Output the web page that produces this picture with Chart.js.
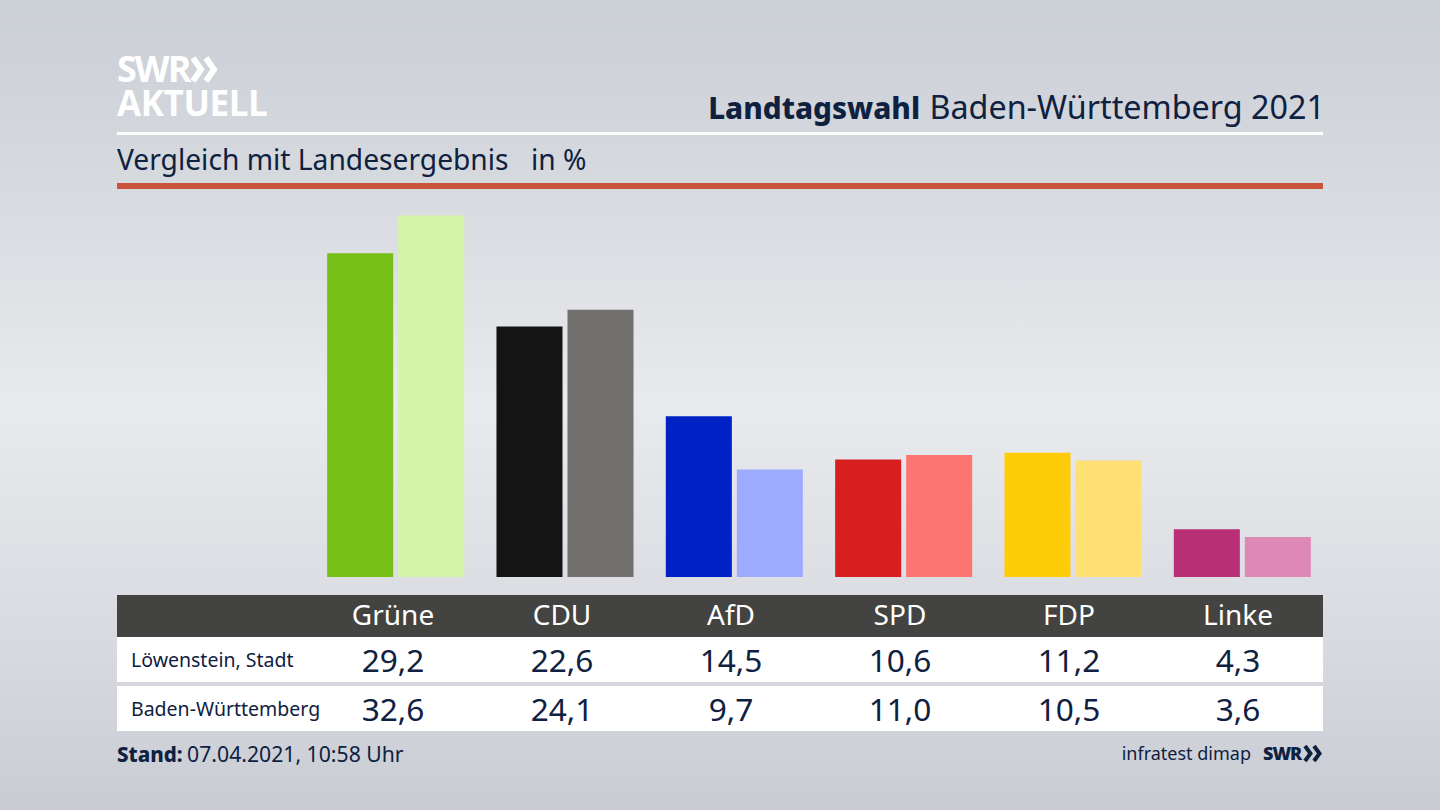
<!DOCTYPE html>
<html lang="de">
<head>
<meta charset="utf-8">
<title>Landtagswahl Baden-Württemberg 2021</title>
<script src="https://cdn.jsdelivr.net/npm/chart.js@4"></script>
<style>
    html, body { margin: 0; padding: 0; }
    body {
        width: 1440px; height: 810px; overflow: hidden; position: relative;
        font-family: "Noto Sans", sans-serif; color: #0f2140;
        background: linear-gradient(180deg, #cbcfd6 0%, #d6d9de 22%, #e9eaee 50%, #d9dbe0 78%, #c9ccd3 100%);
    }
    .abs { position: absolute; white-space: nowrap; }
    #chartBox { position: absolute; left: 311px; top: 189px; width: 1016px; height: 388px; }
    #title { right: 115px; top: 84px; font-size: 32.3px; line-height: 44px; }
    #title b { font-weight: 800; font-size: 29.7px; margin-right: 1px; }
    #subtitle { left: 117px; top: 139px; font-size: 28.2px; line-height: 40px; }
    #unit { left: 531px; top: 139px; font-size: 28.2px; line-height: 40px; }
    #whiteLine { left: 117px; top: 132px; width: 1206px; height: 3px; background: #fff; }
    #redLine { left: 117px; top: 183px; width: 1206px; height: 6px; background: #c9533b; }
    .band { position: absolute; left: 117px; width: 1206px; }
    #headBand { top: 595px; height: 42px; background: #434341; }
    #row1Band { top: 637px; height: 45px; background: #fff; }
    #row2Band { top: 686px; height: 45px; background: #fff; }
    .cell { position: absolute; transform: translateX(-50%); white-space: nowrap; text-align: center; }
    .head { top: 593px; line-height: 42px; font-size: 28px; color: #fff; }
    .val { font-size: 31.6px; line-height: 45px; }
    .rowName { left: 131px; font-size: 19.5px; line-height: 45px; }
    #stand { left: 117px; top: 738px; font-size: 21.2px; line-height: 32px; }
    #stand b { font-weight: 800; font-size: 20.5px; margin-right: -1px; }
    #source { right: 189px; top: 737px; font-size: 18px; line-height: 32px; }
    .logo { font-family: "Open Sans", sans-serif; font-weight: 700; color: #fff; }
    #logoSwr { left: 117px; top: 49px; font-size: 36px; line-height: 40px; letter-spacing: -2px; }
    #logoAkt { left: 117px; top: 83px; font-size: 35px; line-height: 40px; letter-spacing: -0.4px; }
    #footSwr { left: 1263px; top: 737px; font-family: "Open Sans", sans-serif; font-weight: 800; font-size: 18px; line-height: 32px; letter-spacing: -1px; }
    svg.abs { overflow: visible; }
</style>
</head>
<body>
<div class="abs logo" id="logoSwr">SWR</div>
<svg class="abs" style="left:190px;top:57px" width="30" height="25">
    <path d="M3 1 L11 12.5 L3 24 M16 1 L24 12.5 L16 24" fill="none" stroke="#fff" stroke-width="6"/>
</svg>
<div class="abs logo" id="logoAkt">AKTUELL</div>
<div class="abs" id="title"><b>Landtagswahl</b> Baden-Württemberg 2021</div>
<div class="abs" id="whiteLine"></div>
<div class="abs" id="subtitle">Vergleich mit Landesergebnis</div>
<div class="abs" id="unit">in %</div>
<div class="abs" id="redLine"></div>

<div id="chartBox"><canvas id="resultChart" width="1016" height="388"></canvas></div>

<div class="band" id="headBand"></div>
<div class="band" id="row1Band"></div>
<div class="band" id="row2Band"></div>
<div id="tableCells"></div>

<div class="abs" id="stand"><b>Stand:</b> 07.04.2021, 10:58 Uhr</div>
<div class="abs" id="source">infratest dimap</div>
<div class="abs" id="footSwr">SWR</div>
<svg class="abs" style="left:1304px;top:745px" width="20" height="17">
    <path d="M1 1 L6.5 8.5 L1 16 M10 1 L15.5 8.5 L10 16" fill="none" stroke="#0f2140" stroke-width="4"/>
</svg>

<script>
const parties = ['Grüne', 'CDU', 'AfD', 'SPD', 'FDP', 'Linke'];
const localName = 'Löwenstein, Stadt';
const stateName = 'Baden-Württemberg';
const localValues = [29.2, 22.6, 14.5, 10.6, 11.2, 4.3];
const stateValues = [32.6, 24.1, 9.7, 11.0, 10.5, 3.6];
const localColors = ['#78be19', '#141414', '#0021c4', '#d71f1f', '#ffcc0a', '#b92f76'];
const stateColors = ['#d4f5a8', '#71706e', '#9dabff', '#fe7471', '#ffe073', '#de88b6'];

function formatValue(v) {
    return v.toFixed(1).replace('.', ',');
}

function addCell(text, className, left, top) {
    let div = document.createElement('div');
    div.className = className;
    div.textContent = text;
    if (left != null) div.style.left = left + 'px';
    if (top != null) div.style.top = top + 'px';
    document.getElementById('tableCells').append(div);
}

addCell(localName, 'abs rowName', null, 637);
addCell(stateName, 'abs rowName', null, 686);
for (var i = 0; i < parties.length; i++) {
    let x = 393 + 169 * i;
    addCell(parties[i], 'cell head', x, null);
    addCell(formatValue(localValues[i]), 'cell val', x, 637);
    addCell(formatValue(stateValues[i]), 'cell val', x, 686);
}

new Chart(document.getElementById('resultChart').getContext('2d'), {
    type: 'bar',
    data: {
        labels: parties,
        datasets: [
            { label: localName, data: localValues, backgroundColor: localColors },
            { label: stateName, data: stateValues, backgroundColor: stateColors }
        ]
    },
    options: {
        responsive: false,
        animation: false,
        devicePixelRatio: 1,
        layout: { padding: 0 },
        categoryPercentage: 0.8387,
        barPercentage: 0.93,
        plugins: {
            legend: { display: false },
            tooltip: { enabled: false }
        },
        scales: {
            x: { display: false },
            y: { display: false, min: 0, max: 35 }
        }
    }
});
</script>
</body>
</html>
